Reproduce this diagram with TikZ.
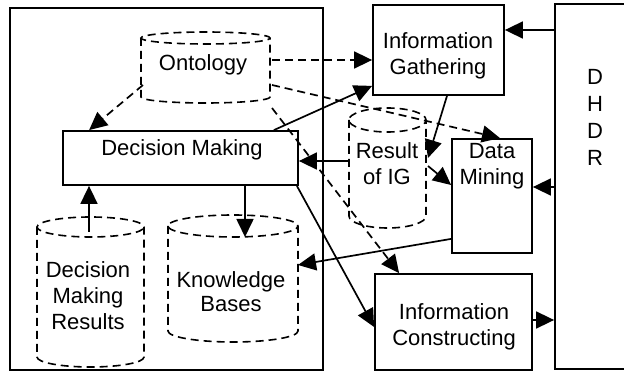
\documentclass[tikz,border=0pt]{standalone}
\usepackage{fontspec}
\setmainfont{Liberation Sans}
\usetikzlibrary{arrows.meta,calc}

% Dashed data store: a cylinder drawn over the extent of a named node
% #1 node name, #2 horizontal radius (half width), #3 vertical radius of the ends
\newcommand\drawstore[3]{%
  \draw[storeline] ($(#1.north west)+(0,-#3)$) -- ($(#1.south west)+(0,#3)$)
    arc[start angle=180, end angle=360, x radius=#2, y radius=#3]
    -- ($(#1.north east)+(0,-#3)$)
    arc[start angle=0, end angle=180, x radius=#2, y radius=#3]
    arc[start angle=180, end angle=360, x radius=#2, y radius=#3];}

\begin{document}
\begin{tikzpicture}[x=1pt, y=1pt,
  lbl/.style={font=\fontsize{22}{26}\selectfont, align=center, inner sep=0pt},
  boxnode/.style={draw, line width=1.8pt, inner sep=0pt},
  store/.style={inner sep=0pt, outer sep=0pt},
  storeline/.style={line width=1.6pt, dash pattern=on 8pt off 5pt},
  flow/.style={line width=1.7pt, -{Triangle[length=18pt,width=17pt]}},
  dflow/.style={flow, dash pattern=on 8pt off 5pt}]

\useasboundingbox (0,0) rectangle (624,375);
\clip (0,0) rectangle (624,375);

% frames and process boxes
\node[boxnode, minimum width=313pt, minimum height=362pt] (core) at (166.5,186) {};
\node[boxnode, minimum width=85pt, minimum height=365pt] (dhdr) at (597.5,188.5) {};
\node[boxnode, minimum width=131pt, minimum height=90pt] (ig) at (438.5,325) {};
\node[boxnode, minimum width=235pt, minimum height=54pt] (dm) at (180.5,217) {};
\node[boxnode, minimum width=80pt, minimum height=114pt] (dmine) at (492,179) {};
\node[boxnode, minimum width=157pt, minimum height=96pt] (ic) at (453.5,53) {};

% data stores
\node[store, minimum width=129pt, minimum height=71pt] (onto) at (205.5,307.5) {};
\node[store, minimum width=107pt, minimum height=150pt] (dmr) at (90.5,83) {};
\node[store, minimum width=130pt, minimum height=127pt] (kb) at (233,96.5) {};
\node[store, minimum width=77pt, minimum height=120pt] (rig) at (387.5,207) {};
\drawstore{onto}{64.5}{6}
\drawstore{dmr}{53.5}{10}
\drawstore{kb}{65}{11}
\drawstore{rig}{38.5}{12}

% labels
\node[lbl] (ontot) at (203,310) {Ontology};
\node[lbl] (dmt) at (182,225) {Decision Making};
\node[lbl] (igt) at (438,319) {Information\\Gathering};
\node[lbl] (rigt) at (387,211) {Result\\of IG};
\node[lbl] (dminet) at (492,209) {Data\\Mining};
\node[lbl] (ict) at (454,48.5) {Information\\Constructing};
\node[lbl] (dmrt) at (88,79) {Decision\\Making\\Results};
\node[lbl, font=\fontsize{22}{24}\selectfont] (kbt) at (231,83.5) {Knowledge\\Bases};
\node[lbl, font=\fontsize{22}{27}\selectfont] (dhdrt) at (595,257.5) {D\\H\\D\\R};

% ontology links
\draw[dflow] ($(onto.south west)+(2,18)$) -- ($(dm.north west)+(27,0)$);
\draw[dflow] ($(onto.east)+(2,7.5)$) -- ($(ig.west)+(0,-10)$);
\draw[dflow] ($(onto.east)+(2,-17.5)$) -- ($(dmine.north)+(8,0)$);
\draw[dflow] ($(onto.south east)+(2,-5)$) -- ($(ic.north west)+(25,0)$);

% process flows
\draw[flow] ($(dm.north east)+(-25,0)$) -- ($(ig.south west)+(0,10)$);
\draw[flow] ($(dm.south east)+(-2,0)$) -- ($(ic.west)+(0,-5)$);
\draw[flow] ($(dm.south)+(64.5,0)$) -- ($(kb.north)+(12,-22)$);
\draw[flow] ($(dmr.north)+(-1.5,-15)$) -- ($(dm.south)+(-91.5,0)$);
\draw[flow] ($(rig.west)+(0,7)$) -- ($(dm.east)+(0,-3)$);
\draw[flow] ($(ig.south)+(8.5,0)$) -- ($(rig.east)+(2,10)$);
\draw[flow] ($(rig.east)+(2,2)$) -- ($(dmine.west)+(0,11)$);
\draw[flow] ($(dhdr.west)+(0,-0.5)$) -- ($(dmine.east)+(0,9)$);
\draw[flow] ($(dmine.south west)+(0,15)$) -- ($(kb.east)+(0,13.5)$);
\draw[flow] ($(dhdr.west)+(0,156.5)$) -- ($(ig.east)+(0,20)$);
\draw[flow] ($(ic.east)+(0,2)$) -- ($(dhdr.west)+(0,-133.5)$);
\end{tikzpicture}
\end{document}
